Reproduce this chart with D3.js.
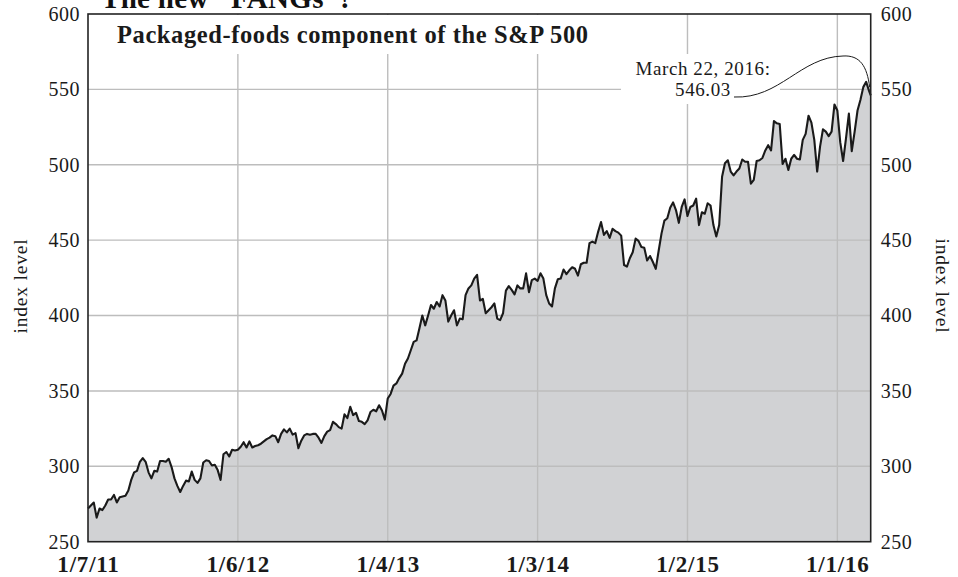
<!DOCTYPE html>
<html><head><meta charset="utf-8">
<script src="https://cdn.jsdelivr.net/npm/d3@7"></script>
<style>body{margin:0;background:#fff} svg{display:block}</style>
</head><body><svg id="c" width="958" height="577"></svg>
<script>
// ---- data ----
const headline = "The new “FANGs”?";
const chartTitle = "Packaged-foods component of the S&P 500";
const yAxisTitle = "index level";
const startDate = "2011-01-07";          // first weekly close
const weeklyValues = [
 272,274,276,266,272,271,274,278,278,281, 276,279.5,280,280.5,284,291,296,297,303,305.5,
 303,296,292,297,296.5,303.5,303.5,303,305,299.5, 292,287,283,287,290.5,290,296.5,291,289,292,
 302.5,304,303.5,300.5,301,297.5,291,308,309.5,306.5, 311,310.5,311,313,316,312.5,316.5,312.5,313.5,314,
 315,316.5,318,319,320.5,320,316,321.5,324.5,322.5, 325,321,322,312,317,320.5,321.5,321,321.5,321.5,
 319,315.5,320,323,324,329.5,328,326,325,334.5, 332,339.5,334,335.5,330,329.5,328,330.5,336,337.5,
 336.5,340.5,337,331,345,348,353.5,355,358.5,361.5, 368,371.5,377,382.5,383.5,391.5,400,393.5,400,407,
 404.5,409,406,413.5,410,396,400,403.5,393.5,398, 397.5,413.5,418,420,424.5,427,410,411,401.5,403.5,
 405.5,408,398,397,401.5,416.5,419.5,417,414,420, 418,418,428,415.5,423.5,424.5,423,428,424.5,413.5,
 408,406,418,424,424.5,430.5,427.5,430,432,431, 426.5,434,435,435,448,449,448,455.5,462,453.5,
 456,451.5,457.5,456,455,453,433.5,432.5,438,442, 451,449.5,445.5,445,436.5,439.5,435.5,431,443,454.5,
 463,464.5,471.5,475,470,461.5,472,477,466,472, 473,477.5,460,468.5,467.5,474.5,473,460,452.5,460,
 492,501,503,495.5,493,495.5,497.5,503.5,502,502, 487.5,490,502.5,503,504.5,509.5,513,509.5,529,527.5,
 527,500.5,504,496.5,504,506.5,504,503.5,516.5,520.5, 532.5,528,516.5,495.5,512,523.5,522,519,522,540,
 536,515,502.5,517.5,534,509,522,536,543,551.5, 555,549
];
const lastDate = "2016-03-22";
const lastValue = 546.03;
const annotationLines = ["March 22, 2016:", "546.03"];
const xTickLabels = ["1/7/11","1/6/12","1/4/13","1/3/14","1/2/15","1/1/16"];
const yTickValues = [250,300,350,400,450,500,550,600];
const yGridValues = [300,350,400,450,500,550];

// ---- build ----
const parseISO = d3.timeParse("%Y-%m-%d");
const parseTick = d3.timeParse("%m/%d/%y");
const t0 = parseISO(startDate);
const data = weeklyValues.map((v,i)=>({date:d3.timeDay.offset(t0,7*i), value:v}));
data.push({date:parseISO(lastDate), value:lastValue});
const tickDates = xTickLabels.map(parseTick);

const L=88, R=870.7, T=14, B=541.7;
const x = d3.scaleTime().domain([t0, parseISO(lastDate)]).range([L,R]);
const y = d3.scaleLinear().domain([250,600]).range([B,T]);

const svg = d3.select("#c");
const serif = "'Liberation Serif', 'DejaVu Serif', serif";

// headline (cropped at top, as in the original page)
svg.append("text").attr("x",101).attr("y",8)
  .attr("font-family",serif).attr("font-weight","bold").attr("font-size",29)
  .attr("letter-spacing",0.3).attr("fill","#111").text(headline);

// area
const area = d3.area().x(d=>x(d.date)).y0(y(250)).y1(d=>y(d.value));
svg.append("path").datum(data).attr("d",area).attr("fill","#d1d2d4");

// grid
const grid = svg.append("g");
grid.selectAll("line.h").data(yGridValues).join("line")
  .attr("x1",L).attr("x2",R).attr("y1",d=>y(d)).attr("y2",d=>y(d))
  .attr("stroke","#bdbdbd").attr("stroke-width",1.4);
grid.selectAll("line.v").data(tickDates.slice(1)).join("line")
  .attr("x1",d=>x(d)).attr("x2",d=>x(d)).attr("y1",T).attr("y2",B)
  .attr("stroke","#bdbdbd").attr("stroke-width",1.4);

// white boxes behind title and annotation
svg.append("rect").attr("x",L+2).attr("y",T+1).attr("width",510).attr("height",39).attr("fill","#fff");
svg.append("rect").attr("x",621).attr("y",54).attr("width",159).attr("height",50).attr("fill","#fff");

// line
const line = d3.line().x(d=>x(d.date)).y(d=>y(d.value)).curve(d3.curveLinear);
svg.append("path").datum(data).attr("d",line).attr("fill","none")
  .attr("stroke","#1a1a1a").attr("stroke-width",2.1).attr("stroke-linejoin","round");

// frame
svg.append("rect").attr("x",L).attr("y",T).attr("width",R-L).attr("height",B-T)
  .attr("fill","none").attr("stroke","#222").attr("stroke-width",1.6);

// chart title
svg.append("text").attr("x",117).attr("y",43)
  .attr("font-family",serif).attr("font-weight","bold").attr("font-size",24.5)
  .attr("textLength",471).attr("lengthAdjust","spacing")
  .attr("fill","#1a1a1a").text(chartTitle);

// annotation
const ann = svg.append("text").attr("font-family",serif).attr("font-size",19)
  .attr("letter-spacing",0.6).attr("fill","#1a1a1a").attr("text-anchor","middle");
ann.append("tspan").attr("x",703).attr("y",75).text(annotationLines[0]);
ann.append("tspan").attr("x",703).attr("y",96).text(annotationLines[1]);
const last = data[data.length-1];
const ex = x(last.date), ey = y(last.value);
svg.append("path")
  .attr("d",`M734,97 C780,99 800,57 843,56 C860,55 867,66 ${ex-1},${ey-8}`)
  .attr("fill","none").attr("stroke","#1a1a1a").attr("stroke-width",1);

// y axes
const yl = svg.append("g").attr("transform",`translate(${L},0)`)
  .call(d3.axisLeft(y).tickValues(yTickValues).tickSize(0).tickPadding(8));
const yr = svg.append("g").attr("transform",`translate(${R},0)`)
  .call(d3.axisRight(y).tickValues(yTickValues).tickSize(0).tickPadding(10));
[yl,yr].forEach(g=>{
  g.select(".domain").remove();
  g.selectAll("text").attr("font-family",serif).attr("font-size",20)
    .attr("letter-spacing",0.5).attr("fill","#1a1a1a");
});

// x axis
const xa = svg.append("g").attr("transform",`translate(0,${B})`)
  .call(d3.axisBottom(x).tickValues(tickDates).tickSize(0).tickPadding(14)
    .tickFormat((d,i)=>xTickLabels[i]));
xa.select(".domain").remove();
xa.selectAll("text").attr("font-family",serif).attr("font-weight","bold")
  .attr("font-size",23).attr("letter-spacing",0.8).attr("fill","#1a1a1a");

// axis titles
svg.append("text").attr("transform",`translate(23,286) rotate(-90)`)
  .attr("text-anchor","middle").attr("dominant-baseline","middle")
  .attr("font-family",serif).attr("font-size",19.5).attr("letter-spacing",0.8)
  .attr("fill","#1a1a1a").text(yAxisTitle);
svg.append("text").attr("transform",`translate(940,286) rotate(90)`)
  .attr("text-anchor","middle").attr("dominant-baseline","middle")
  .attr("font-family",serif).attr("font-size",19.5).attr("letter-spacing",0.8)
  .attr("fill","#1a1a1a").text(yAxisTitle);
</script></body></html>
